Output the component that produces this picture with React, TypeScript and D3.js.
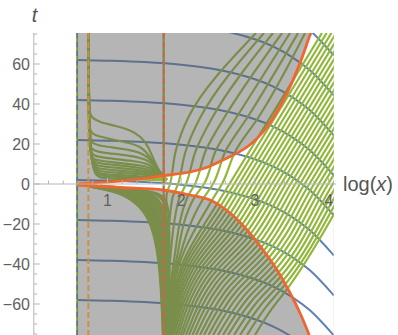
import * as d3 from "d3";
import { useEffect, useRef } from "react";

type Pt = [number, number];

const xTickValues = [1, 2, 3, 4];
const xTickLabels = ["1", "2", "3", "4"];
const yTickValues = [-60, -40, -20, 0, 20, 40, 60];
const yTickLabels = ["−60", "−40", "−20", "0", "20", "40", "60"];

// log(x) span of the shaded strip, and the three vertical walls
const stripLx: Pt = [0.586, 4.07];
const greenWallLx = 0.586;
const orangeWallLx = 0.74;
const redWallLx = 1.762;

// blue level curves: value at the left wall, and how much each has dropped by a given log(x)
const blueLevels = [102, 82, 62, 42, 22, 2, -18, -38, -58];
const blueDropLx = [0.586, 1.0, 1.5, 2.0, 2.5, 3.0, 3.25, 3.5, 3.75, 4.07];
const blueDrop = [0, 0.35, 1.05, 2.4, 4.9, 9.6, 13.3, 18.4, 25.3, 37.7];

// orange boundaries of the unshaded cusp region
const orangeUpper: Pt[] = [
  [0.586, 0], [1.373, 2.2], [1.753, 4.15], [2.119, 6], [2.323, 8], [2.567, 12],
  [2.893, 18.5], [3.164, 28.5], [3.436, 45.5], [3.612, 60.5], [3.748, 74.5], [3.762, 75.5],
];
const orangeLower: Pt[] = [
  [0.586, -0.5], [1.17, -1.75], [1.753, -3], [2.119, -5.5], [2.391, -8], [2.662, -14.5],
  [2.893, -23], [3.11, -33], [3.3, -43], [3.477, -54.5], [3.612, -64.5], [3.72, -74], [3.737, -75.5],
];

// green curves hanging from the orange wall into the cusp
const greenUpperLeft: Pt[][] = [
  [[0.7395, 76], [0.742, 42], [0.756, 35.5], [0.79, 33], [0.898, 30.75], [1.102, 29.25], [1.305, 27], [1.455, 23.75], [1.55, 19], [1.617, 13], [1.685, 7.5], [1.753, 3.75], [1.807, 2]],
  [[0.7395, 76], [0.742, 32], [0.763, 26], [0.83, 24.25], [1.034, 22.5], [1.305, 20.5], [1.468, 18.5], [1.577, 13.5], [1.672, 8], [1.753, 4], [1.807, 2]],
  [[0.7395, 76], [0.744, 24.5], [0.776, 20.5], [0.898, 19], [1.237, 17.5], [1.482, 15.5], [1.604, 11.5], [1.685, 7], [1.753, 3.75], [1.807, 2]],
  [[0.7395, 76], [0.745, 22], [0.776, 17], [0.898, 15.75], [1.305, 14.25], [1.522, 12.5], [1.645, 9], [1.726, 5.5], [1.807, 2]],
  [[0.7395, 76], [0.746, 18], [0.79, 14], [0.966, 13], [1.373, 11.5], [1.563, 10], [1.672, 7], [1.807, 2]],
  [[0.7395, 76], [0.749, 14.5], [0.803, 12], [1.034, 11], [1.441, 9.5], [1.604, 8], [1.699, 5.5], [1.807, 2]],
  [[0.7395, 76], [0.749, 13], [0.817, 10.5], [1.102, 9.5], [1.482, 8], [1.645, 6.5], [1.807, 2]],
  [[0.7395, 76], [0.752, 11.5], [0.83, 9], [1.17, 8], [1.509, 6.75], [1.672, 5.25], [1.807, 2]],
  [[0.7395, 76], [0.753, 10], [0.844, 7.5], [1.237, 6.5], [1.55, 5.5], [1.699, 4.25], [1.807, 2]],
  [[0.7395, 76], [0.754, 8.5], [0.858, 6.15], [1.305, 5.25], [1.577, 4.5], [1.712, 3.5], [1.807, 2]],
  [[0.7395, 76], [0.756, 7], [0.871, 4.85], [1.373, 4], [1.645, 3.25], [1.807, 2]],
  [[0.7395, 76], [0.757, 6], [0.885, 3.85], [1.441, 3], [1.807, 2]],
  [[0.7395, 76], [0.758, 4.5], [0.898, 2.75], [1.441, 2.25], [1.807, 1.75]],
];

// green curves rising from the red wall, through the cusp, into the upper shaded part
const greenFan: Pt[][] = [
  [[3.015, 75.5], [2.092, 33], [1.929, 17], [1.848, 0], [1.801, -5.5], [1.78, -38], [1.773, -75.5]],
  [[3.123, 75.5], [2.255, 33], [2.065, 17], [1.957, 0], [1.875, -8], [1.807, -38], [1.78, -75.5]],
  [[3.245, 75.5], [2.418, 33], [2.201, 17], [2.065, 0], [1.97, -7.5], [1.848, -38], [1.787, -75.5]],
  [[3.368, 75.5], [2.581, 33], [2.336, 17], [2.187, 0], [2.079, -7], [1.902, -38], [1.794, -75.5]],
  [[3.476, 75.5], [2.744, 33], [2.472, 17], [2.309, 0], [2.174, -7], [1.929, -39], [1.801, -75.5]],
  [[3.585, 75.5], [2.893, 33], [2.608, 17], [2.431, 0], [2.296, -7.5], [1.957, -39], [1.807, -75.5]],
  [[3.68, 75.5], [3.042, 33], [2.744, 17], [2.553, 0], [2.411, -8.5], [1.984, -39], [1.814, -75.5]],
];

// green curves crossing the unshaded region diagonally
const greenRight: Pt[][] = [
  [[3.91, 75.5], [2.654, 0], [2.483, -10.2], [2.019, -39.6], [1.821, -75.5]],
  [[3.974, 75.5], [2.718, 0], [2.529, -11.3], [2.043, -40.2], [1.828, -75.5]],
  [[4.038, 75.5], [2.782, 0], [2.575, -12.4], [2.069, -40.8], [1.834, -75.5]],
  [[4.102, 75.5], [2.845, 0], [2.62, -13.5], [2.099, -41.4], [1.841, -75.5]],
  [[4.166, 75.5], [2.909, 0], [2.666, -14.65], [2.129, -42.05], [1.852, -75.5]],
  [[4.229, 75.5], [2.973, 0], [2.706, -16.1], [2.157, -42.85], [1.864, -75.5]],
  [[4.293, 75.5], [3.037, 0], [2.745, -17.55], [2.19, -43.65], [1.882, -75.5]],
  [[4.357, 75.5], [3.1, 0], [2.784, -19], [2.224, -44.45], [1.902, -75.5]],
  [[4.421, 75.5], [3.164, 0], [2.824, -20.45], [2.261, -45.2], [1.929, -75.5]],
  [[4.484, 75.5], [3.228, 0], [2.863, -21.9], [2.3, -46.0], [1.957, -75.5]],
  [[4.548, 75.5], [3.292, 0], [2.902, -23.45], [2.342, -46.85], [1.991, -75.5]],
  [[4.612, 75.5], [3.355, 0], [2.938, -25.05], [2.383, -47.75], [2.024, -75.5]],
  [[4.676, 75.5], [3.419, 0], [2.974, -26.75], [2.429, -48.7], [2.065, -75.5]],
  [[4.74, 75.5], [3.483, 0], [3.011, -28.45], [2.474, -49.6], [2.106, -75.5]],
  [[4.803, 75.5], [3.547, 0], [3.046, -30.05], [2.522, -50.5], [2.153, -75.5]],
  [[4.867, 75.5], [3.611, 0], [3.083, -31.75], [2.573, -51.45], [2.201, -75.5]],
  [[4.931, 75.5], [3.674, 0], [3.118, -33.45], [2.626, -52.35], [2.255, -75.5]],
  [[4.995, 75.5], [3.738, 0], [3.152, -35.2], [2.677, -53.35], [2.309, -75.5]],
  [[5.058, 75.5], [3.802, 0], [3.186, -37], [2.731, -54.35], [2.37, -75.5]],
  [[5.122, 75.5], [3.866, 0], [3.22, -38.8], [2.786, -55.3], [2.432, -75.5]],
  [[5.186, 75.5], [3.929, 0], [3.254, -40.55], [2.844, -56.3], [2.499, -75.5]],
  [[5.25, 75.5], [3.993, 0], [3.288, -42.35], [2.901, -57.25], [2.567, -75.5]],
  [[5.313, 75.5], [4.057, 0], [3.32, -44.3], [2.958, -58.35], [2.635, -75.5]],
  [[5.377, 75.5], [4.121, 0], [3.35, -46.25], [3.02, -59.4], [2.716, -75.5]],
  [[5.441, 75.5], [4.185, 0], [3.381, -48.25], [3.081, -60.5], [2.798, -75.5]],
  [[5.505, 75.5], [4.248, 0], [3.411, -50.2], [3.148, -61.6], [2.893, -75.5]],
  [[5.569, 75.5], [4.312, 0], [3.442, -52.25], [3.223, -62.7], [3.001, -75.5]],
];

// dense bundle below the axis falling into the red wall
const greenLowerLeft: Pt[][] = [
  [[0.735, -1], [0.898, -2.25], [1.17, -4.5], [1.4, -9.5], [1.577, -18], [1.672, -31.5], [1.726, -49.5], [1.753, -76]],
  [[0.735, -1], [0.93, -2.4], [1.2, -4.6], [1.43, -9.6], [1.595, -18.2], [1.682, -31.8], [1.733, -50], [1.757, -76]],
  [[0.735, -1], [0.966, -2.5], [1.237, -4.75], [1.455, -9.75], [1.611, -18.5], [1.692, -32.25], [1.74, -51], [1.76, -76]],
  [[0.735, -1], [1.0, -2.5], [1.27, -4.9], [1.483, -9.9], [1.628, -18.7], [1.702, -32.6], [1.747, -52], [1.764, -76]],
  [[0.735, -1], [1.034, -2.5], [1.305, -5], [1.509, -10], [1.645, -19], [1.712, -33], [1.753, -53], [1.767, -76]],
  [[0.735, -0.9], [1.07, -2.55], [1.34, -5], [1.53, -9.9], [1.66, -18.8], [1.722, -33], [1.76, -58], [1.77, -76]],
  [[0.735, -1], [1.102, -2.6], [1.373, -5], [1.556, -9.75], [1.672, -18.5], [1.733, -33], [1.767, -63], [1.774, -76]],
  [[0.735, -0.8], [1.14, -2.7], [1.41, -5], [1.58, -9.6], [1.685, -18.2], [1.743, -33], [1.774, -76]],
  [[0.735, -0.75], [1.17, -2.75], [1.441, -5], [1.604, -9.5], [1.699, -18], [1.753, -33], [1.78, -76]],
  [[0.75, -0.75], [1.2, -2.6], [1.475, -4.75], [1.63, -9], [1.72, -17.2], [1.767, -33], [1.787, -76]],
  [[0.763, -0.75], [1.237, -2.5], [1.509, -4.5], [1.658, -8.5], [1.74, -16.5], [1.78, -33], [1.794, -76]],
  [[0.8, -0.75], [1.27, -2.5], [1.545, -4.5], [1.685, -8.2], [1.76, -15.8], [1.793, -33], [1.8, -76]],
  [[0.83, -0.75], [1.305, -2.5], [1.577, -4.5], [1.712, -8], [1.78, -15], [1.807, -33], [1.807, -76]],
  [[0.898, -0.75], [1.373, -2.5], [1.645, -4.5], [1.753, -7.5], [1.807, -14], [1.821, -33], [1.821, -76]],
  [[0.966, -1], [1.441, -2.75], [1.685, -4.5], [1.794, -7.5], [1.834, -13], [1.841, -33], [1.841, -76]],
];

const GREEN = "#92b83b";
const BLUE = "#5e81b5";
const FONT = "'Liberation Sans', Arial, sans-serif";

const App = () => {
  const ref = useRef<SVGSVGElement>(null);

  useEffect(() => {
    const svg = d3.select(ref.current);
    svg.selectAll("*").remove();

    const x = d3.scaleLinear().domain([0, 4.1]).range([33.8, 336]);
    const y = d3.scaleLinear().domain([-75.5, 75.5]).range([335, 33]);
    const lineOf = (curve: d3.CurveFactory) =>
      d3
        .line<Pt>()
        .x((d) => x(d[0]))
        .y((d) => y(d[1]))
        .curve(curve);
    const smooth = lineOf(d3.curveCatmullRom.alpha(0.5));
    const soft = lineOf(d3.curveBasis);
    const alongT = lineOf(d3.curveMonotoneY);

    const left = x(stripLx[0]) - 1.5;
    const right = x(stripLx[1]);
    svg
      .append("defs")
      .append("clipPath")
      .attr("id", "plot")
      .append("rect")
      .attr("x", left)
      .attr("y", y(75.5))
      .attr("width", right - left)
      .attr("height", y(-75.5) - y(75.5));

    const plot = svg.append("g").attr("clip-path", "url(#plot)");

    // blue level curves
    blueLevels.forEach((level) => {
      const pts = blueDropLx.map((lx, i) => [lx, level - blueDrop[i]] as Pt);
      plot
        .append("path")
        .attr("d", smooth(pts))
        .attr("fill", "none")
        .attr("stroke", BLUE)
        .attr("stroke-width", 2);
    });

    // green walls
    [greenWallLx, redWallLx].forEach((lx) => {
      plot
        .append("line")
        .attr("x1", x(lx))
        .attr("x2", x(lx))
        .attr("y1", y(75.5))
        .attr("y2", y(-75.5))
        .attr("stroke", GREEN)
        .attr("stroke-width", 2.2);
    });

    const green = (d: string | null, w = 2.2) =>
      plot
        .append("path")
        .attr("d", d)
        .attr("fill", "none")
        .attr("stroke", GREEN)
        .attr("stroke-width", w);

    greenLowerLeft.forEach((c) => green(soft(c), 2.4));
    greenUpperLeft.forEach((c) => green(soft(c)));
    greenFan.forEach((c) => green(alongT(c)));
    greenRight.forEach((c) => green(alongT(c)));

    // blue dashes over the left wall
    plot
      .append("line")
      .attr("x1", x(greenWallLx))
      .attr("x2", x(greenWallLx))
      .attr("y1", y(75.5))
      .attr("y2", y(-75.5))
      .attr("stroke", BLUE)
      .attr("stroke-width", 1.6)
      .attr("stroke-dasharray", "5,4");

    // axes
    const axis = svg.append("g").attr("stroke", "#b5b5b5").attr("stroke-width", 1);
    axis.append("line").attr("x1", x(0)).attr("x2", x(4.1)).attr("y1", y(0)).attr("y2", y(0));
    axis.append("line").attr("x1", x(0)).attr("x2", x(0)).attr("y1", y(75.5)).attr("y2", y(-75.5));
    d3.range(0.2, 4.05, 0.2).forEach((v) => {
      const major = xTickValues.some((t) => Math.abs(t - v) < 1e-6);
      axis
        .append("line")
        .attr("x1", x(v))
        .attr("x2", x(v))
        .attr("y1", y(0))
        .attr("y2", y(0) - (major ? 6 : 3.5));
    });
    d3.range(-75, 76, 5).forEach((v) => {
      const major = v % 20 === 0;
      axis
        .append("line")
        .attr("x1", x(0))
        .attr("x2", x(0) + (major ? 6 : 3.5))
        .attr("y1", y(v))
        .attr("y2", y(v));
    });

    // gray shading with the cusp region cut out
    const rectPath = `M${left + 1.5},${y(75.5)}H${right}V${y(-75.5)}H${left + 1.5}Z`;
    const upperPath = smooth(orangeUpper) ?? "";
    const lowerBack = (smooth([...orangeLower].reverse()) ?? "").replace(/^M/, "L");
    const holePath = `${upperPath}L${right + 2},${y(75.5)}L${right + 2},${y(-75.5)}${lowerBack}Z`;
    plot
      .append("path")
      .attr("d", rectPath + holePath)
      .attr("fill", "#5e5e5e")
      .attr("fill-opacity", 0.46)
      .attr("fill-rule", "evenodd");

    // orange boundaries
    [orangeUpper, orangeLower].forEach((c) => {
      plot
        .append("path")
        .attr("d", smooth(c))
        .attr("fill", "none")
        .attr("stroke", "#ee6630")
        .attr("stroke-width", 2.8);
    });

    // dashed walls
    plot
      .append("line")
      .attr("x1", x(orangeWallLx))
      .attr("x2", x(orangeWallLx))
      .attr("y1", y(75.5))
      .attr("y2", y(-75.5))
      .attr("stroke", "#cd9040")
      .attr("stroke-width", 2)
      .attr("stroke-dasharray", "6,3");
    plot
      .append("line")
      .attr("x1", x(redWallLx))
      .attr("x2", x(redWallLx))
      .attr("y1", y(75.5))
      .attr("y2", y(-75.5))
      .attr("stroke", "#c8664a")
      .attr("stroke-width", 2)
      .attr("stroke-dasharray", "6,3");

    // tick labels
    const labels = svg.append("g").attr("fill", "#606060").style("font-family", FONT).style("font-size", "16px");
    xTickValues.forEach((v, i) => {
      labels
        .append("text")
        .attr("x", x(v))
        .attr("y", 205.5)
        .attr("text-anchor", "middle")
        .text(xTickLabels[i]);
    });
    yTickValues.forEach((v, i) => {
      labels
        .append("text")
        .attr("x", 30)
        .attr("y", y(v) + 6)
        .attr("text-anchor", "end")
        .text(yTickLabels[i]);
    });

    // axis labels
    const names = svg.append("g").attr("fill", "#555").style("font-family", FONT).style("font-size", "20px");
    names
      .append("text")
      .attr("x", 34.5)
      .attr("y", 22)
      .attr("text-anchor", "middle")
      .style("font-style", "italic")
      .text("t");
    const lg = names.append("text").attr("x", 343).attr("y", 191);
    lg.append("tspan").text("log(");
    lg.append("tspan").style("font-style", "italic").text("x");
    lg.append("tspan").text(")");
  }, []);

  return (
    <svg
      ref={ref}
      width={398}
      height={335}
      style={{ position: "fixed", left: 0, top: 0, background: "#fff" }}
    />
  );
};

export default App;
